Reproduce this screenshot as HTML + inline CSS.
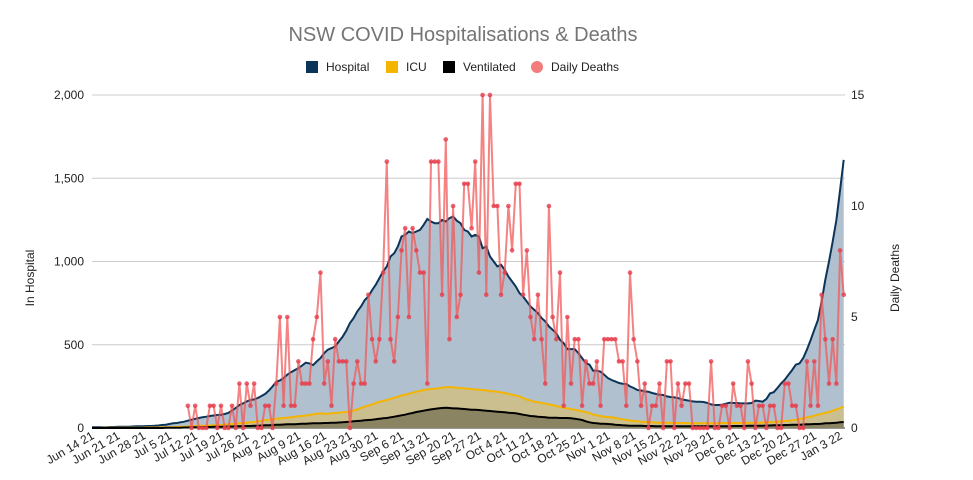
<!DOCTYPE html>
<html><head><meta charset="utf-8">
<style>
body{margin:0;background:#fff;}
svg{display:block;font-family:"Liberation Sans",sans-serif;}
</style></head>
<body>
<svg id="chart" width="973" height="480" viewBox="0 0 973 480">
<text x="463" y="41" text-anchor="middle" font-size="20" fill="#757575">NSW COVID Hospitalisations &amp; Deaths</text>
<g font-size="12" fill="#222">
 <g><rect x="306" y="61" width="12" height="12" fill="#0b3558"/><text x="326" y="71">Hospital</text></g>
 <g><rect x="386" y="61" width="12" height="12" fill="#f4b400"/><text x="406" y="71">ICU</text></g>
 <g><rect x="443" y="61" width="12" height="12" fill="#000"/><text x="463" y="71">Ventilated</text></g>
 <g><circle cx="537" cy="67" r="6" fill="#f47c7c"/><text x="551" y="71">Daily Deaths</text></g>
</g>
<text transform="translate(34,278) rotate(-90)" text-anchor="middle" font-size="12" fill="#222">In Hospital</text>
<text transform="translate(899,278) rotate(-90)" text-anchor="middle" font-size="12" fill="#222">Daily Deaths</text>
<g id="grid"></g><g id="areas"></g><g id="deaths"></g><g id="axes"></g>
</svg>
<script>
const hospital=[4,4,5,5,5,6,6,7,7,8,
8,9,10,10,11,12,12,13,15,18,
20,24,28,30,34,38,44,50,55,60,
65,68,72,75,78,80,84,90,105,120,
138,148,160,168,172,180,192,205,225,250,
278,285,300,320,335,348,360,375,392,388,
378,400,420,450,470,480,490,520,548,585,
630,660,700,730,768,790,828,860,900,940,
970,1030,1050,1090,1150,1160,1180,1170,1180,1190,
1220,1255,1240,1230,1230,1250,1240,1260,1270,1245,
1230,1190,1180,1150,1160,1150,1080,1090,1030,1000,
970,980,950,910,880,850,810,790,760,730,
710,690,660,640,610,590,570,530,510,474,
474,474,450,420,390,380,344,345,338,320,
300,288,280,270,266,264,250,240,228,225,
220,218,210,205,200,198,190,186,184,180,
172,168,164,160,158,158,156,150,142,138,
138,140,146,152,150,150,148,148,148,150,
164,162,158,175,208,215,240,268,290,320,
348,380,388,420,470,528,590,648,760,890,
1000,1120,1250,1430,1610];
const icu=[0,0,0,1,1,1,1,1,1,1,2,2,2,2,2,3,3,3,3,4,
4,5,5,6,7,8,9,10,11,12,
13,14,15,16,17,18,20,22,24,26,
28,30,32,34,36,40,44,48,50,52,
55,58,60,62,65,68,70,72,75,78,
82,86,88,85,86,88,90,92,94,96,
98,105,112,120,128,135,142,150,158,162,
168,175,182,188,195,200,206,212,218,222,
228,232,234,236,238,242,244,246,244,242,
240,238,236,234,232,230,228,226,222,220,
218,214,210,205,200,195,190,180,170,165,
158,155,150,146,142,138,132,128,122,118,
115,110,106,100,95,90,80,76,72,68,
66,64,60,56,52,48,45,42,40,38,
36,35,34,33,32,32,31,31,30,30,
30,30,29,29,29,28,28,28,28,29,
29,30,30,30,30,30,30,31,31,31,
32,32,33,34,35,36,38,40,42,44,
46,50,54,58,64,68,74,80,86,90,
96,104,112,120,128];
const ventilated=[0,0,0,0,0,0,0,0,0,0,0,0,0,0,0,0,0,0,0,0,
1,1,2,2,2,3,3,4,4,5,
5,6,6,7,7,8,8,9,9,10,
10,11,12,12,13,14,15,16,17,18,
19,20,21,22,22,23,24,25,26,27,
28,28,29,30,30,31,32,33,34,36,
38,40,42,44,46,48,50,52,55,58,
60,64,68,72,76,80,86,90,96,100,
104,108,112,115,118,120,122,120,118,118,
116,114,112,110,110,108,106,104,102,100,
98,96,94,92,90,88,84,80,76,72,
70,68,66,64,62,62,61,60,60,60,
58,56,52,48,40,34,30,28,26,25,
24,22,20,18,16,15,14,14,13,13,
12,12,12,11,11,11,10,10,10,10,
10,10,10,10,10,10,10,10,10,11,
11,11,11,11,12,12,12,12,13,13,
14,14,14,15,15,16,16,17,18,18,
19,20,20,21,22,22,24,24,26,28,
28,30,32,34,36];
const deathsStart=26;
const deaths=[1,0,1,0,0,0,1,1,0,1,0,0,1,0,2,0,2,1,2,0,0,1,1,0,2,5,1,5,1,1,3,2,2,2,4,5,7,
2,3,1,4,3,3,3,0,2,3,2,2,6,4,3,4,7,12,4,3,5,8,9,5,9,8,7,7,2,12,12,12,6,13,4,10,5,
6,11,11,9,12,7,15,6,15,10,10,6,7,10,8,11,11,6,8,5,4,6,4,2,10,5,4,7,1,5,2,4,4,1,3,2,
2,3,1,4,4,4,4,3,3,1,7,4,3,1,2,0,1,1,2,0,3,3,0,2,1,2,2,0,0,0,0,0,3,0,
0,1,1,0,2,1,1,0,3,2,0,1,1,0,1,1,0,0,2,2,1,1,0,0,3,1,3,1,6,4,2,4,2,8,6];
const leftTicks=[0,500,1000,1500,2000];
const leftTickLabels=["0","500","1,000","1,500","2,000"];
const rightTicks=[0,5,10,15];
const xTickLabels=["Jun 14 21","Jun 21 21","Jun 28 21","Jul 5 21","Jul 12 21","Jul 19 21","Jul 26 21","Aug 2 21","Aug 9 21","Aug 16 21","Aug 23 21","Aug 30 21","Sep 6 21","Sep 13 21","Sep 20 21","Sep 27 21","Oct 4 21","Oct 11 21","Oct 18 21","Oct 25 21","Nov 1 21","Nov 8 21","Nov 15 21","Nov 22 21","Nov 29 21","Dec 6 21","Dec 13 21","Dec 20 21","Dec 27 21","Jan 3 22"];

const X0=92,DAY=3.685,Y0=428,H=333;
const x=d=>X0+d*DAY;
const yL=v=>Y0-v/2000*H;
const yR=v=>Y0-v/15*H;
const NS='http://www.w3.org/2000/svg';
function mk(tag,parent,attrs){const e=document.createElementNS(NS,tag);for(const k in attrs)e.setAttribute(k,attrs[k]);parent.appendChild(e);return e;}
const grid=document.getElementById('grid'),axes=document.getElementById('axes'),areas=document.getElementById('areas'),dg=document.getElementById('deaths');
leftTicks.forEach((v,i)=>{
 const l=mk('line',grid,{x1:X0,x2:845,y1:yL(v),y2:yL(v),stroke:i==0?'#333':'#ccc','stroke-width':1});
 
 
 const t=mk('text',axes,{x:84,y:yL(v)+4,'text-anchor':'end','font-size':12,fill:'#222'});t.textContent=leftTickLabels[i];
 
 
});
rightTicks.forEach(v=>{
 const t=mk('text',axes,{x:851,y:yR(v)+4,'font-size':12,fill:'#222'});t.textContent=String(v);
 
 
});
xTickLabels.forEach((s,i)=>{
 const xx=x(i*7);
 const t=mk('text',axes,{transform:`translate(${xx+3},${438}) rotate(-30)`,'text-anchor':'end','font-size':12,fill:'#222'});t.textContent=s;
 
 
});
function series(arr,fill,stroke,name){
 let pts=arr.map((v,i)=>x(i).toFixed(1)+','+yL(v).toFixed(1));
 const a=mk('polygon',areas,{points:x(0)+','+Y0+' '+pts.join(' ')+' '+x(arr.length-1)+','+Y0,fill:fill});
 
 
 const l=mk('polyline',areas,{points:pts.join(' '),fill:'none',stroke:stroke,'stroke-width':2});
 
 
}
series(hospital,'#b1c0cf','#0b3558','hospital');
series(icu,'#cbbf8f','#f4b400','icu');
series(ventilated,'#8b8462','#000','ventilated');
const dp=deaths.map((v,i)=>x(i+deathsStart).toFixed(1)+','+yR(v).toFixed(1)).join(' ');
const dl=mk('polyline',dg,{points:dp,fill:'none',stroke:'rgba(240,90,90,0.75)','stroke-width':2});


deaths.forEach((v,i)=>{
 const c=mk('circle',dg,{cx:x(i+deathsStart),cy:yR(v),r:2.3,fill:'rgba(230,60,75,0.8)'});
 
 
});
</script>
</body></html>
